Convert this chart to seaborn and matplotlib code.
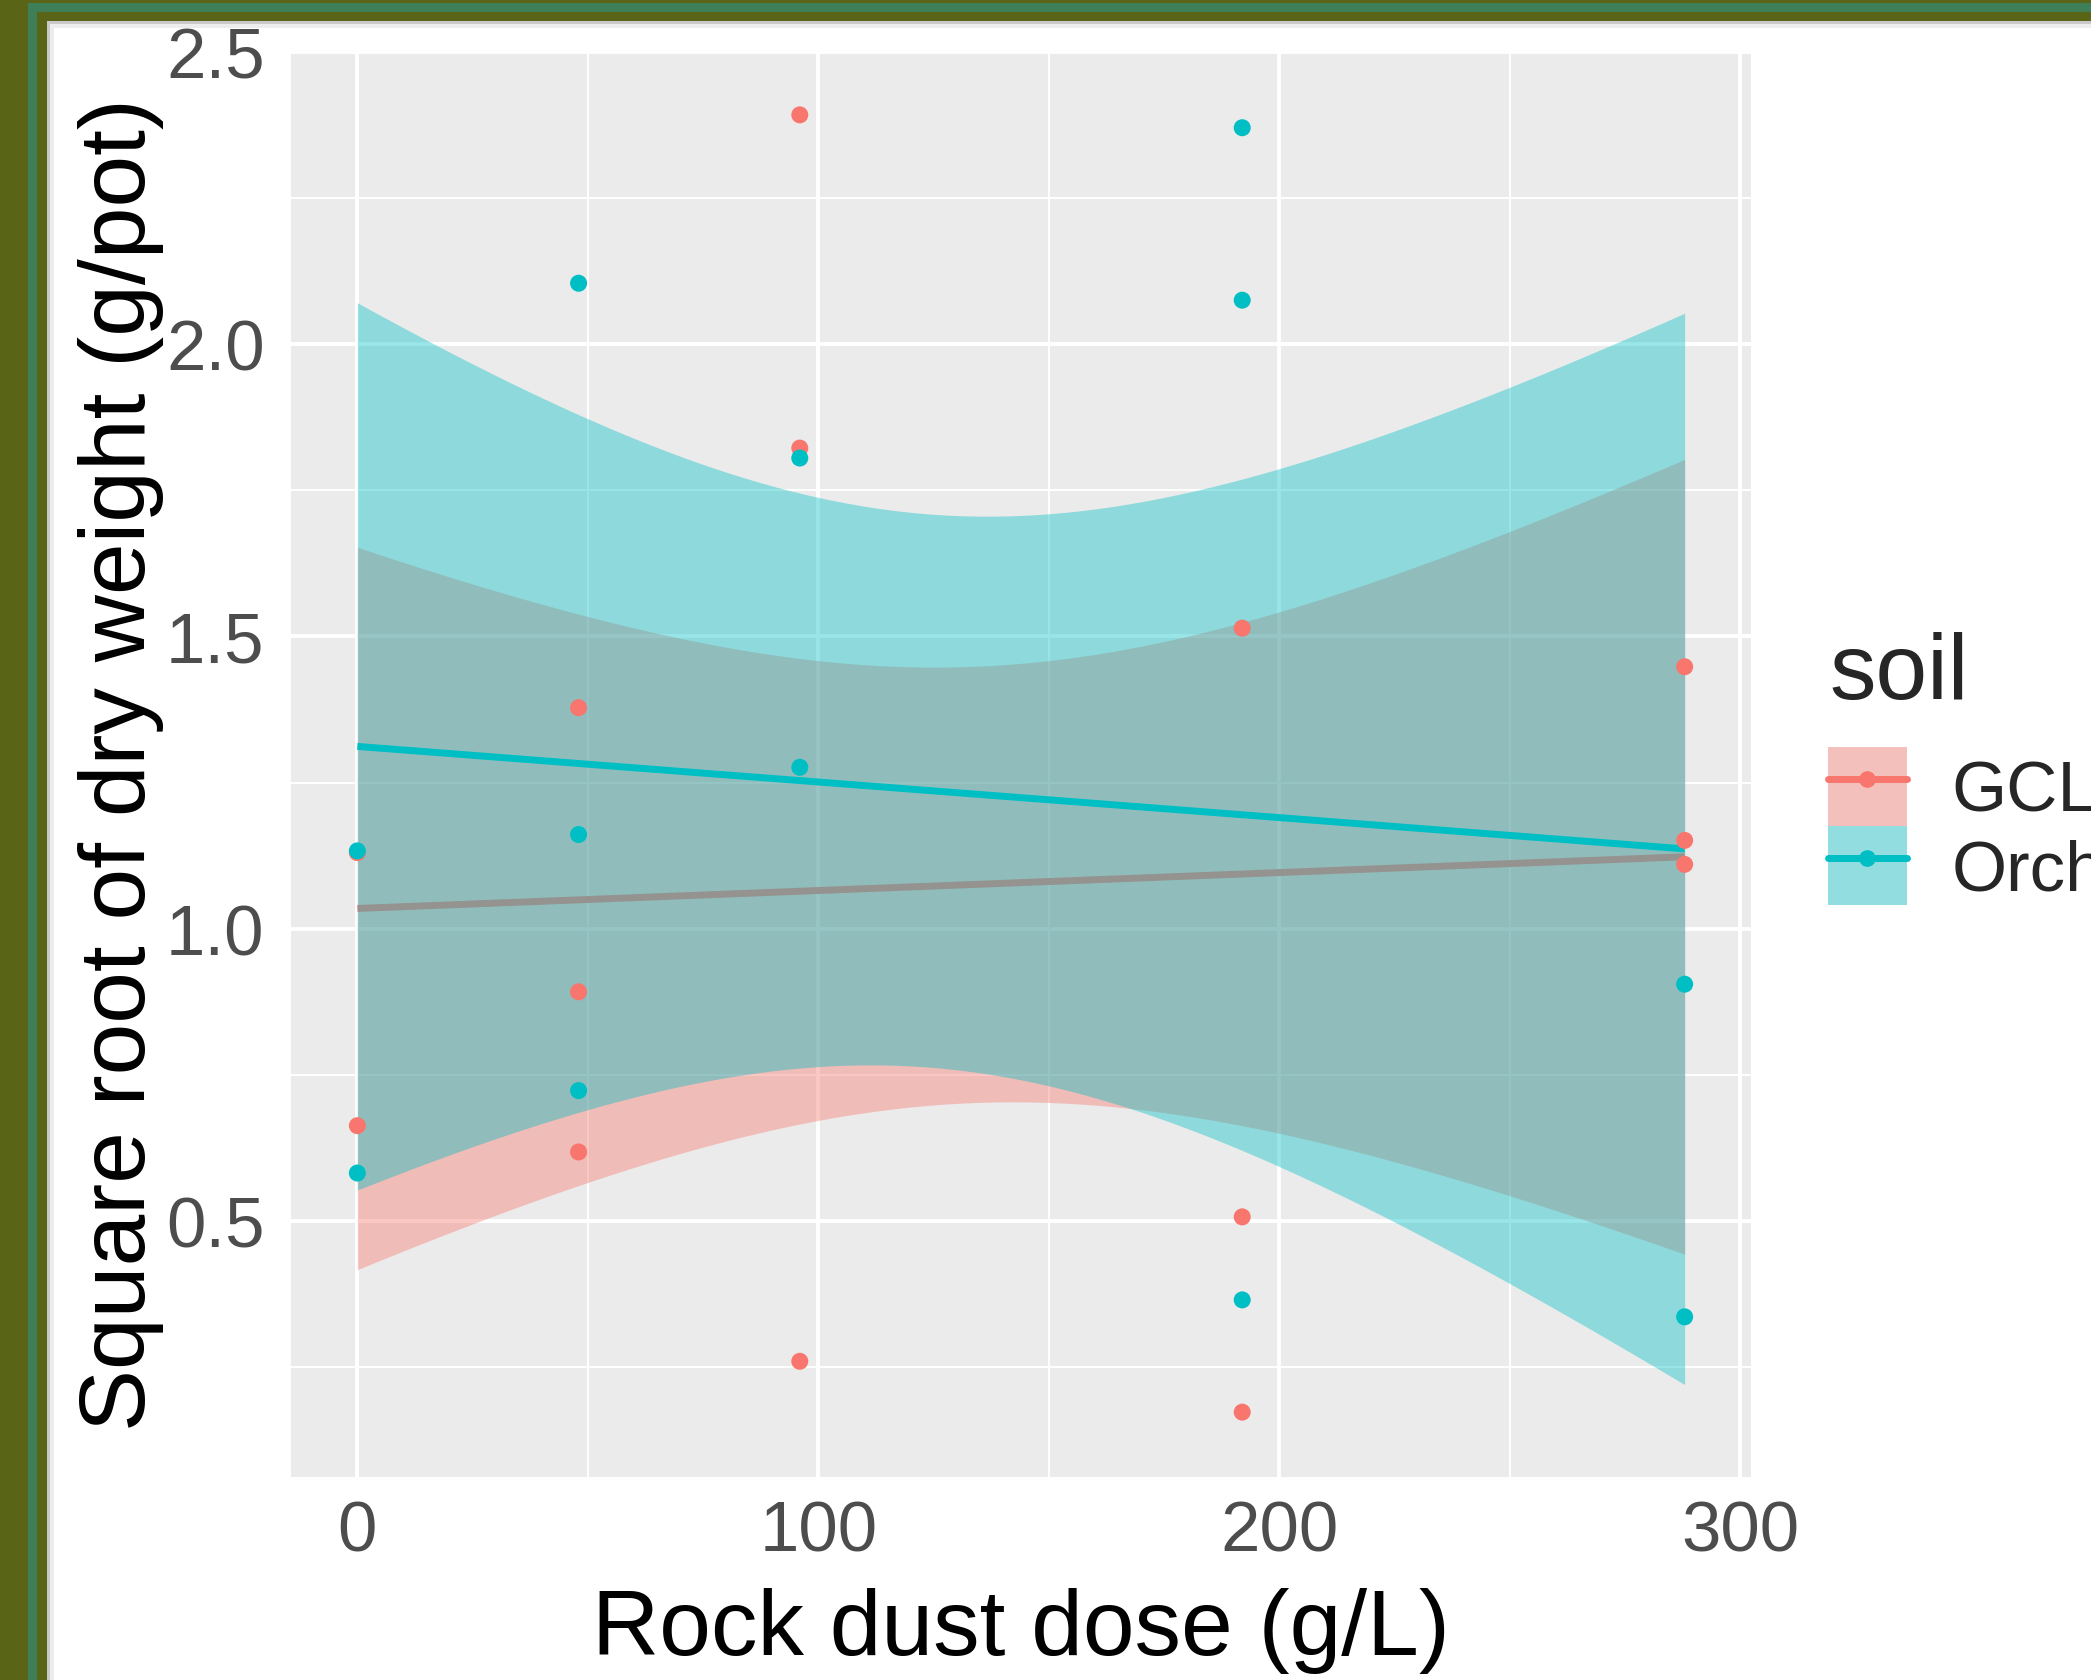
import numpy as np
import pandas as pd
import seaborn as sns
import matplotlib.pyplot as plt
from matplotlib.patches import Rectangle, Patch
from matplotlib.lines import Line2D
from matplotlib.ticker import FixedLocator, FormatStrFormatter

# data
dose_gcl = [0, 0, 48, 48, 48, 96, 96, 96, 192, 192, 192, 288, 288, 288]
sqrt_gcl = [0.663, 1.13, 1.378, 0.892, 0.618, 2.392, 1.822, 0.260,
            1.514, 0.507, 0.173, 1.448, 1.151, 1.110]
dose_orch = [0, 0, 48, 48, 48, 96, 96, 192, 192, 192, 288, 288]
sqrt_orch = [1.133, 0.582, 2.104, 1.161, 0.723, 1.805, 1.276,
             2.370, 2.075, 0.365, 0.905, 0.336]
soils = ["GCL", "Orchard"]
colors = {"GCL": "#F8766D", "Orchard": "#00BFC4"}
x_ticks = [0, 100, 200, 300]
y_ticks = [0.5, 1.0, 1.5, 2.0, 2.5]

df = pd.DataFrame({
    "dose": dose_gcl + dose_orch,
    "sqrt_dw": sqrt_gcl + sqrt_orch,
    "soil": ["GCL"] * len(dose_gcl) + ["Orchard"] * len(dose_orch),
})

T95 = {10: 2.228, 11: 2.201, 12: 2.179}


def lm_band(x, y, grid):
    x = np.asarray(x, float)
    y = np.asarray(y, float)
    n = len(x)
    b, a = np.polyfit(x, y, 1)
    fit = a + b * grid
    s = np.sqrt(np.sum((y - (a + b * x)) ** 2) / (n - 2))
    se = s * np.sqrt(1 / n + (grid - x.mean()) ** 2 / np.sum((x - x.mean()) ** 2))
    return fit, fit - T95[n - 2] * se, fit + T95[n - 2] * se


sns.set_theme(style="darkgrid")
plt.rcParams["font.family"] = ["Liberation Sans", "DejaVu Sans"]

W, H = 2091, 1681
fig = plt.figure(figsize=(W / 100, H / 100), dpi=100)
fig.patch.set_facecolor("white")
ax = fig.add_axes([291 / W, 1 - 1478 / H, 1460 / W, 1427 / H])
ax.set_facecolor("#EBEBEB")

# smooth layer: ribbon + line per group, later group on top
grid = np.linspace(df["dose"].min(), df["dose"].max(), 80)
lows, highs = [], []
for i, soil in enumerate(soils):
    sub = df[df["soil"] == soil]
    fit, lo, hi = lm_band(sub["dose"], sub["sqrt_dw"], grid)
    lows.append(lo.min())
    highs.append(hi.max())
    ax.fill_between(grid, lo, hi, color=colors[soil], alpha=0.4, lw=0, zorder=2 + i * 0.2)
    ax.plot(grid, fit, color=colors[soil], lw=5, zorder=2.1 + i * 0.2, solid_capstyle="butt")

sns.scatterplot(data=df, x="dose", y="sqrt_dw", hue="soil", palette=colors,
                s=150, linewidth=0, ax=ax, legend=False, zorder=3)

# ggplot style 5% expansion
xr = df["dose"].max() - df["dose"].min()
ax.set_xlim(df["dose"].min() - 0.05 * xr, df["dose"].max() + 0.05 * xr)
ylo = min(df["sqrt_dw"].min(), min(lows))
yhi = max(df["sqrt_dw"].max(), max(highs))
yr = yhi - ylo
ax.set_ylim(ylo - 0.05 * yr, yhi + 0.05 * yr)

ax.xaxis.set_major_locator(FixedLocator(x_ticks))
ax.xaxis.set_minor_locator(FixedLocator([50, 150, 250]))
ax.yaxis.set_major_locator(FixedLocator(y_ticks))
ax.yaxis.set_minor_locator(FixedLocator([0.25, 0.75, 1.25, 1.75, 2.25]))
ax.yaxis.set_major_formatter(FormatStrFormatter("%.1f"))
ax.set_axisbelow(True)
ax.grid(which="major", color="white", lw=2.8)
ax.grid(which="minor", color="white", lw=1.4)
for sp in ax.spines.values():
    sp.set_visible(False)

ax.tick_params(which="major", length=10, width=1.8, color="#333333",
               labelsize=51, labelcolor="#4D4D4D")
ax.tick_params(axis="x", which="major", pad=6)
ax.tick_params(axis="y", which="major", pad=9)
ax.tick_params(which="minor", length=0)

ax.set_xlabel("Rock dust dose (g/L)", fontsize=67, color="black")
ax.set_ylabel("Square root of dry weight (g/pot)", fontsize=67, color="black")
ax.xaxis.label.set_va("baseline")
ax.yaxis.label.set_va("baseline")
ax.xaxis.set_label_coords(0.5, (1478 - 1655) / 1427)
ax.yaxis.set_label_coords((145 - 291) / 1460, 0.5)

# legend
handles = []
for soil in soils:
    handles.append((
        Patch(facecolor="#F2F2F2", edgecolor="none"),
        Patch(facecolor=colors[soil], alpha=0.4, edgecolor="none"),
        Line2D([], [], color=colors[soil], lw=5, marker="o", markersize=12,
               markeredgewidth=0),
    ))
leg = ax.legend(handles, soils, loc="upper left",
                bbox_to_anchor=(1828 / W, 1 - 748 / H), bbox_transform=fig.transFigure,
                frameon=False, fontsize=51, handlelength=1.11, handleheight=1.34,
                handletextpad=0.63, labelspacing=0.0, borderpad=0, borderaxespad=0)
fig.text(1829 / W, 1 - 699 / H, "soil", fontsize=67, va="baseline", ha="left")

# picture frame
olive, green = "#5A6417", "#3F7F57"


def frame_rect(x0, y0, x1, y1, c):
    fig.patches.append(Rectangle((x0 / W, 1 - y1 / H), (x1 - x0) / W, (y1 - y0) / H,
                                 transform=fig.transFigure, facecolor=c,
                                 edgecolor="none", zorder=10))


frame_rect(47, 22, 50, H, "#C9C9C9")
frame_rect(47, 22, W, 25, "#C9C9C9")
frame_rect(50, 25, 54, H, "#EDEDED")
frame_rect(50, 25, W, 29, "#EDEDED")
frame_rect(0, 0, 47, H, olive)
frame_rect(0, 0, W, 22, olive)
frame_rect(28, 4, 37, H, green)
frame_rect(28, 4, W, 13, green)

fig.savefig("out.png", dpi=100)
